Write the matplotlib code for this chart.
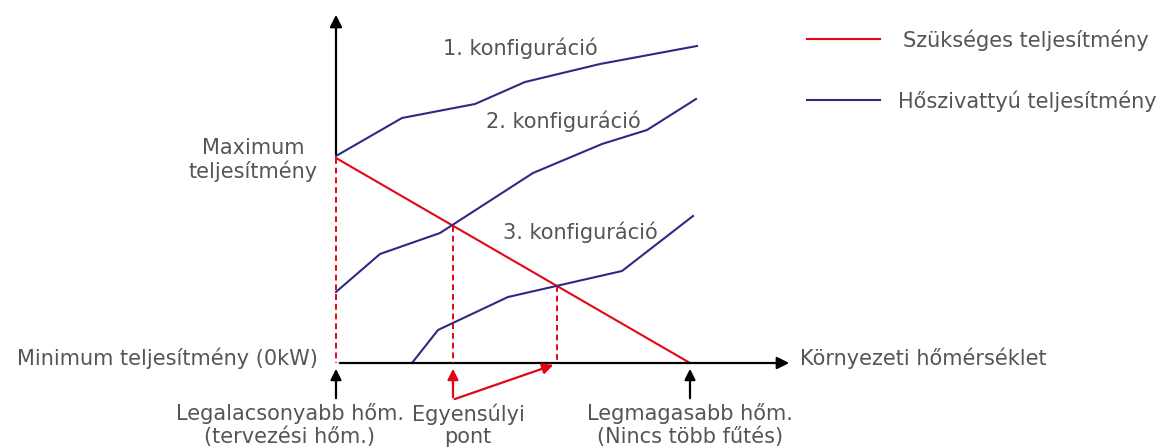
import matplotlib.pyplot as plt

# pixel-space data (y grows downwards)
req_x = [336, 690]
req_y = [158, 363]

konf1_x = [336, 402, 475, 525, 600, 697]
konf1_y = [156, 118, 104, 82, 64, 46]
konf2_x = [336, 380, 440, 533, 602, 647, 696]
konf2_y = [292, 254, 233, 173, 144, 130, 99]
konf3_x = [412, 438, 508, 622, 693]
konf3_y = [363, 330, 297, 271, 216]

# balance points (red dashed drops)
drop_x = [336, 453, 557]
drop_y = [158, 226, 286]

RED = '#e30613'
BLUE = '#2e2a84'
GREY = '#555555'
FONT = 'DejaVu Sans'

fig = plt.figure(figsize=(11.59, 4.48), dpi=100)
ax = fig.add_axes([0, 0, 1, 1])
ax.set_xlim(0, 1159)
ax.set_ylim(448, 0)
ax.axis('off')

# axes with arrows
ax.annotate('', xy=(336, 12), xytext=(336, 157),
            arrowprops=dict(arrowstyle='-|>', color='black', lw=1.6, mutation_scale=18))
ax.annotate('', xy=(792, 363), xytext=(337, 363),
            arrowprops=dict(arrowstyle='-|>', color='black', lw=1.6, mutation_scale=18))

# dashed drops
for x, y in zip(drop_x, drop_y):
    ax.plot([x, x], [y, 363], color=RED, lw=1.4, dashes=(3, 2), zorder=3)

ax.plot(req_x, req_y, color=RED, lw=1.5)
ax.plot(konf1_x, konf1_y, color=BLUE, lw=1.5)
ax.plot(konf2_x, konf2_y, color=BLUE, lw=1.5)
ax.plot(konf3_x, konf3_y, color=BLUE, lw=1.5)

# bottom pointers
for x in [336, 690]:
    ax.annotate('', xy=(x, 366), xytext=(x, 401),
                arrowprops=dict(arrowstyle='-|>', color='black', lw=1.6, mutation_scale=16))
ax.annotate('', xy=(453, 366), xytext=(453, 400),
            arrowprops=dict(arrowstyle='-|>', color=RED, lw=1.6, mutation_scale=16))
ax.annotate('', xy=(556, 364), xytext=(452, 400),
            arrowprops=dict(arrowstyle='-|>', color=RED, lw=1.6, mutation_scale=16))

txt = dict(color=GREY, family=FONT, fontsize=15)
ax.text(520, 48, '1. konfiguráció', ha='center', va='center', **txt)
ax.text(563, 121, '2. konfiguráció', ha='center', va='center', **txt)
ax.text(580, 232, '3. konfiguráció', ha='center', va='center', **txt)
ax.text(318, 160, 'Maximum\nteljesítmény', ha='right', va='center', multialignment='center',
        linespacing=1.13, **txt)
ax.text(318, 358, 'Minimum teljesítmény (0kW)', ha='right', va='center', **txt)
ax.text(800, 358, 'Környezeti hőmérséklet', ha='left', va='center', **txt)
ax.text(290, 425, 'Legalacsonyabb hőm.\n(tervezési hőm.)', ha='center', va='center',
        linespacing=1.13, **txt)
ax.text(468, 425, 'Egyensúlyi\npont', ha='center', va='center', linespacing=1.13, **txt)
ax.text(690, 425, 'Legmagasabb hőm.\n(Nincs több fűtés)', ha='center', va='center',
        linespacing=1.13, **txt)

# legend
ax.plot([807, 880], [39, 39], color=RED, lw=1.5)
ax.plot([807, 880], [100, 100], color=BLUE, lw=1.5)
ax.text(903, 40, 'Szükséges teljesítmény', ha='left', va='center', **txt)
ax.text(898, 101, 'Hőszivattyú teljesítmény', ha='left', va='center', **txt)

fig.savefig('out.png', dpi=100)
